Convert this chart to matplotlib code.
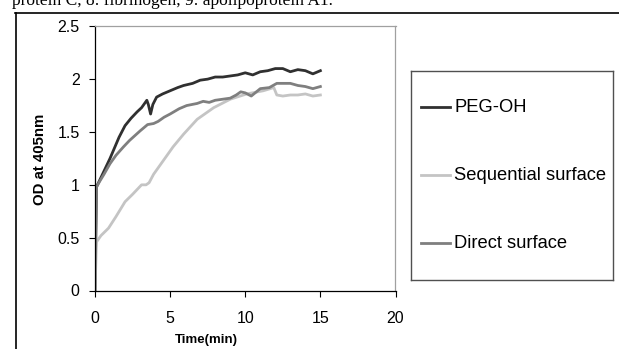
import matplotlib
matplotlib.use("Agg")
import matplotlib.pyplot as plt
from matplotlib.lines import Line2D

# --- data ---
peg_t = [0, 0.1, 0.3, 0.5, 0.8, 1.0, 1.3, 1.6, 2.0, 2.4, 2.8, 3.1, 3.3, 3.45, 3.55, 3.7, 3.85, 4.1,
         4.5, 5.0, 5.5, 5.9, 6.5, 7.0, 7.5, 8.0, 8.5, 9.0, 9.5, 10.0, 10.5, 11.0, 11.5, 12.0,
         12.5, 13.0, 13.5, 14.0, 14.5, 15.0]
peg_od = [0, 0.98, 1.04, 1.10, 1.19, 1.25, 1.35, 1.45, 1.56, 1.63, 1.69, 1.73, 1.77, 1.80, 1.76,
          1.67, 1.76, 1.83, 1.86, 1.89, 1.92, 1.94, 1.96, 1.99, 2.00, 2.02, 2.02, 2.03, 2.04,
          2.06, 2.04, 2.07, 2.08, 2.10, 2.10, 2.07, 2.09, 2.08, 2.05, 2.08]

seq_t = [0, 0.1, 0.4, 0.9, 1.4, 2.0, 2.5, 2.9, 3.1, 3.4, 3.6, 3.9, 4.5, 5.2, 5.9, 6.8, 7.9, 9.0,
         10.1, 11.2, 11.9, 12.1, 12.5, 13.0, 13.5, 14.0, 14.5, 15.0]
seq_od = [0, 0.46, 0.52, 0.59, 0.70, 0.84, 0.91, 0.97, 1.0, 1.0, 1.02, 1.10, 1.22, 1.36, 1.48,
          1.62, 1.73, 1.81, 1.86, 1.89, 1.92, 1.85, 1.84, 1.85, 1.85, 1.86, 1.84, 1.85]

dir_t = [0, 0.1, 0.3, 0.6, 1.0, 1.4, 1.9, 2.3, 3.0, 3.5, 3.9, 4.2, 4.6, 5.0, 5.6, 6.1, 6.8,
         7.2, 7.6, 8.0, 8.5, 9.0, 9.4, 9.7, 10.0, 10.4, 11.0, 11.6, 12.1, 12.5, 13.0, 13.5,
         14.0, 14.5, 15.0]
dir_od = [0, 0.98, 1.03, 1.10, 1.20, 1.28, 1.36, 1.42, 1.51, 1.57, 1.58, 1.60, 1.64, 1.67, 1.72,
          1.75, 1.77, 1.79, 1.78, 1.80, 1.81, 1.82, 1.85, 1.88, 1.87, 1.84, 1.91, 1.92, 1.96,
          1.96, 1.96, 1.94, 1.93, 1.91, 1.93]

series = [("PEG-OH", peg_t, peg_od, "#303030"),
          ("Sequential surface", seq_t, seq_od, "#c4c4c4"),
          ("Direct surface", dir_t, dir_od, "#7f7f7f")]

x_ticks = [0, 5, 10, 15, 20]
y_ticks = [0, 0.5, 1, 1.5, 2, 2.5]
y_tick_labels = ["0", "0.5", "1", "1.5", "2", "2.5"]

W, H = 619, 349
fig = plt.figure(figsize=(W / 100, H / 100), dpi=100)

# caption fragment cut off above the figure
fig.text(12 / W, 1 - 5 / H, "protein C, 8: fibrinogen, 9: apolipoprotein A1.",
         family="Liberation Serif", fontsize=12.5, va="baseline", ha="left")

# outer frame (top and left edges visible)
fig.add_artist(Line2D([15 / W, 1], [1 - 12.5 / H, 1 - 12.5 / H], color="black", lw=1.2))
fig.add_artist(Line2D([15.5 / W, 15.5 / W], [0, 1 - 12.5 / H], color="black", lw=1.2))

ax = fig.add_axes([95 / W, (H - 290.5) / H, (395.5 - 95) / W, (290.5 - 26.3) / H])
for name, t, od, c in series:
    ax.plot(t, od, color=c, lw=2.0, solid_joinstyle="round")

ax.set_xlim(0, 20)
ax.set_ylim(0, 2.5)
ax.set_xticks(x_ticks)
ax.set_yticks(y_ticks)
ax.set_yticklabels(y_tick_labels)
for lab in ax.get_xticklabels() + ax.get_yticklabels():
    lab.set_family("Liberation Sans")
    lab.set_fontsize(11.5)
ax.tick_params(axis="x", direction="out", length=4, width=0.8, pad=11)
ax.tick_params(axis="y", direction="out", length=4, width=0.8, pad=7)
ax.spines["left"].set_color("black")
ax.spines["bottom"].set_color("black")
ax.spines["top"].set_color("#a0a0a0")
ax.spines["right"].set_color("#a0a0a0")
for s in ax.spines.values():
    s.set_linewidth(0.9)

fig.text(206.5 / W, 1 - 340 / H, "Time(min)", family="Liberation Sans", weight="bold",
         fontsize=9.5, ha="center", va="center")
fig.text(39.5 / W, 1 - 159 / H, "OD at 405nm", family="Liberation Sans", weight="bold",
         fontsize=10.8, ha="center", va="center", rotation=90)

# legend box
lx0, lx1, ly0, ly1 = 411, 613, 70.7, 280
lax = fig.add_axes([lx0 / W, 1 - ly1 / H, (lx1 - lx0) / W, (ly1 - ly0) / H])
lax.set_xlim(0, lx1 - lx0)
lax.set_ylim(ly1 - ly0, 0)
lax.set_xticks([])
lax.set_yticks([])
for s in lax.spines.values():
    s.set_color("#505050")
    s.set_linewidth(1.0)
for (name, t, od, c), yy in zip(series, [107, 175, 243]):
    lax.plot([9.7, 39], [yy - ly0, yy - ly0], color=c, lw=2.0)
    lax.text(43, yy - ly0, name, family="Liberation Sans", fontsize=13.2, va="center", ha="left")

fig.savefig("out.png", dpi=100)
